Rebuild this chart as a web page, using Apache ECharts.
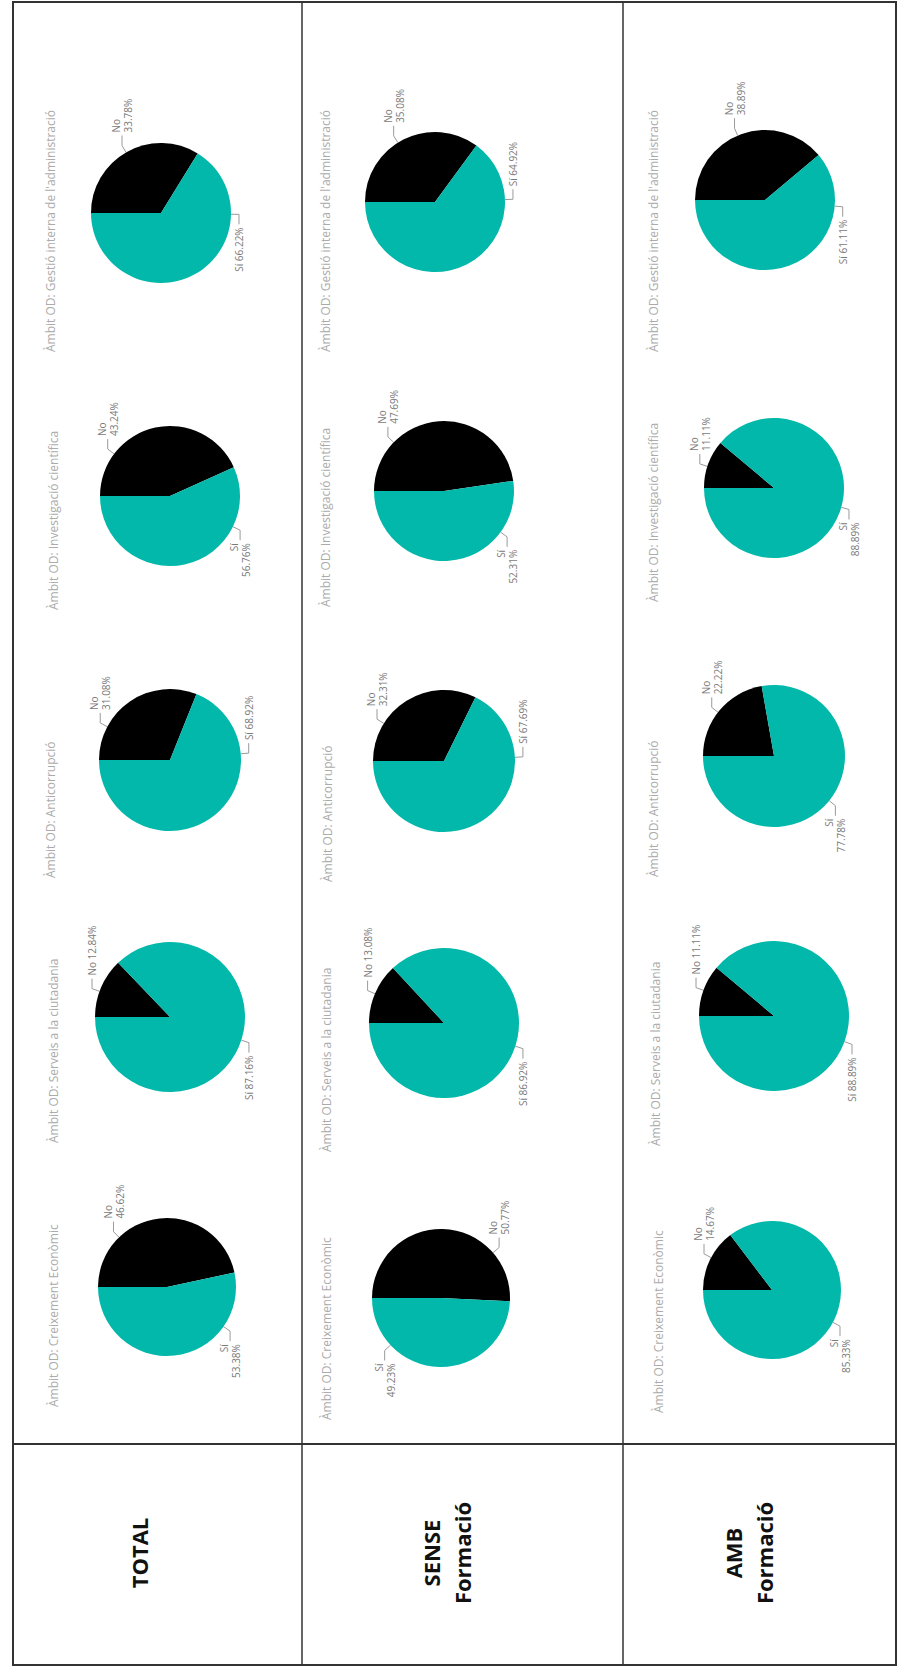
<!DOCTYPE html>
<html>
<head>
<meta charset="utf-8">
<script src="https://cdn.jsdelivr.net/npm/echarts@6/dist/echarts.min.js"></script>
<style>
html,body{margin:0;padding:0;width:898px;height:1673px;overflow:hidden;background:#fff;}
#wrap{position:absolute;left:0;top:0;width:1673px;height:898px;transform-origin:0 0;transform:translateY(1673px) rotate(-90deg);}
</style>
</head>
<body>
<div id="wrap"></div>
<script>
// ---- data ----
const groupLabels = ['TOTAL', 'SENSE\nFormació', 'AMB\nFormació'];
const ambitTitles = [
  'Àmbit OD: Creixement Econòmic',
  'Àmbit OD: Serveis a la ciutadania',
  'Àmbit OD: Anticorrupció',
  'Àmbit OD: Investigació científica',
  "Àmbit OD: Gestió interna de l'administració"
];
const sliceNames = ['No', 'Sí'];
const noTotal = [46.62, 12.84, 31.08, 43.24, 33.78];
const siTotal = [53.38, 87.16, 68.92, 56.76, 66.22];
const noSense = [50.77, 13.08, 32.31, 47.69, 35.08];
const siSense = [49.23, 86.92, 67.69, 52.31, 64.92];
const noAmb   = [14.67, 11.11, 22.22, 11.11, 38.89];
const siAmb   = [85.33, 88.89, 77.78, 88.89, 61.11];

// ---- layout / style (drawing frame is the unrotated page) ----
const noVals = [noTotal, noSense, noAmb];
const siVals = [siTotal, siSense, siAmb];
const wrapNo = [[1,0,1,1,1],[1,0,1,1,1],[1,0,1,1,1]];
const wrapSi = [[1,0,0,1,0],[1,0,0,1,0],[1,0,1,1,0]];
const pieU = [[386,656,913,1177,1460],[375,650,912,1182,1471],[383,657,917,1185,1473]];
const pieV = [[167,170,170,170,161],[441,444,444,444,435],[772,774,774,774,765]];
const pieR = [69,75,71,70,70];
// where the label leader leaves each pie (degrees clockwise from 12 o'clock)
const labelAngNo = [[46,20,28,37,60],[139,23,32,44,58],[28,20,38,18,67]];
const labelAngSi = [[215,198,175,206,181],[317,198,177,216,178],[208,200,219,196,185]];
const titleU = [[266,530,795,1063,1321],[253,521,791,1066,1321],[260,527,796,1071,1321]];
const titleV = [[53,53,50,53,50],[326,326,327,325,325],[658,655,653,653,653]];
const groupV = [139, 446, 748];
const GROUP_LINE = 31;
const LEN1 = 8, LEN2 = 10, GAP = 3;
const FONT = '"Open Sans", "Noto Sans", sans-serif';
const TEAL = '#01B8AA', BLACK = '#000000';

const chart = echarts.init(document.getElementById('wrap'), null, {renderer: 'svg', width: 1673, height: 898});

function textEl(x, y, text, font, fill, align) {
  return {
    type: 'text', silent: true, x: x, y: y,
    style: {legacy: false, text: text, font: font, fill: fill, align: align, verticalAlign: 'middle'}
  };
}

const series = [];
const graphics = [];
for (let g = 0; g < 3; g++) {
  for (let a = 0; a < 5; a++) {
    const wr = [wrapNo[g][a], wrapSi[g][a]];
    const ang = [labelAngNo[g][a], labelAngSi[g][a]];
    const cu = pieU[g][a], cv = pieV[g][a], r = pieR[a];
    series.push({
      type: 'pie',
      center: [cu, cv],
      radius: r,
      startAngle: 90,
      clockwise: true,
      animation: false,
      silent: true,
      avoidLabelOverlap: false,
      color: [BLACK, TEAL],
      data: [
        {name: sliceNames[0], value: noVals[g][a]},
        {name: sliceNames[1], value: siVals[g][a]}
      ],
      itemStyle: {borderWidth: 0},
      label: {
        show: true,
        position: 'outside',
        color: '#7a7a7a',
        fontSize: 10,
        lineHeight: 12,
        fontFamily: FONT,
        formatter: p => p.name + (wr[p.dataIndex] ? '\n' : ' ') + p.value.toFixed(2) + '%'
      },
      labelLine: {show: true, length: LEN1, length2: LEN2, smooth: false, lineStyle: {color: '#9a9a9a', width: 1}},
      labelLayout: function (params) {
        const t = ang[params.dataIndex] * Math.PI / 180;
        const dx = Math.sin(t), dy = -Math.cos(t);
        const side = dx >= 0 ? 1 : -1;
        const ex = cu + r * dx, ey = cv + r * dy;
        const bx = cu + (r + LEN1) * dx, by = cv + (r + LEN1) * dy;
        const px = bx + side * LEN2, py = by;
        return {
          x: px + side * GAP, y: py,
          align: side > 0 ? 'left' : 'right',
          verticalAlign: 'middle',
          labelLinePoints: [[ex, ey], [bx, by], [px, py]]
        };
      },
      emphasis: {disabled: true}
    });
    graphics.push(textEl(titleU[g][a], titleV[g][a], ambitTitles[a], '12px ' + FONT, '#ababab', 'left'));
  }
}

// frame
const LINE = '#333333';
graphics.push({type: 'rect', silent: true, shape: {x: 8, y: 13, width: 1663, height: 883},
  style: {fill: 'none', stroke: LINE, lineWidth: 2}});
graphics.push({type: 'line', silent: true, shape: {x1: 229, y1: 13, x2: 229, y2: 896},
  style: {stroke: LINE, lineWidth: 2}});
[302, 623].forEach(v => graphics.push({type: 'line', silent: true,
  shape: {x1: 8, y1: v, x2: 1671, y2: v}, style: {stroke: LINE, lineWidth: 1.5}}));

// row labels (one text element per line, centred)
for (let g = 0; g < 3; g++) {
  const lines = groupLabels[g].split('\n');
  lines.forEach((ln, i) => {
    const y = groupV[g] + (i - (lines.length - 1) / 2) * GROUP_LINE;
    graphics.push(textEl(120, y, ln, 'bold 22px ' + FONT, '#111111', 'center'));
  });
}

chart.setOption({
  backgroundColor: '#ffffff',
  animation: false,
  series: series,
  graphic: {elements: graphics}
});
</script>
</body>
</html>
